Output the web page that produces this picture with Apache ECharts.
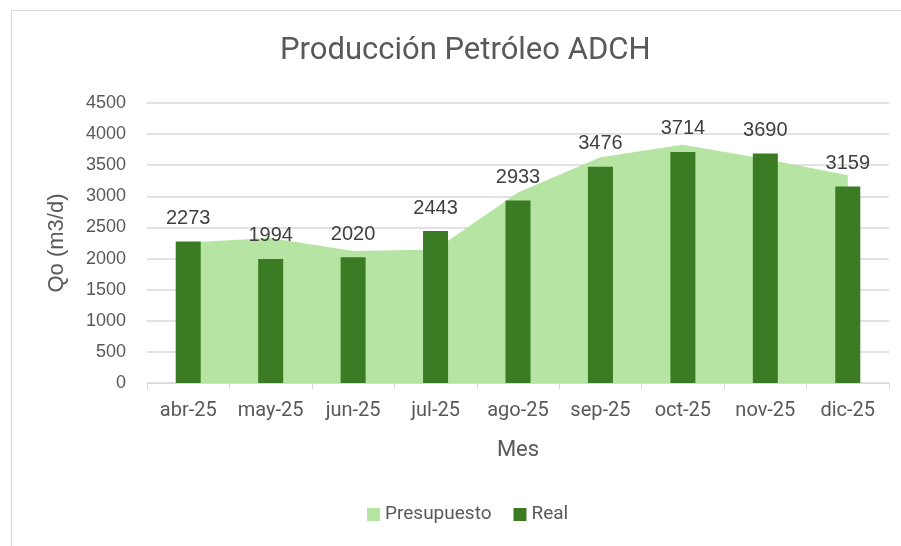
<!DOCTYPE html>
<html>
<head>
<meta charset="utf-8">
<script src="https://cdn.jsdelivr.net/npm/echarts@6/dist/echarts.min.js"></script>
<style>
  html, body { margin: 0; padding: 0; background: #fff; }
  #frame { position: absolute; left: 11px; top: 10px; width: 890px; height: 536px;
           border-left: 1px solid #d9d9d9; border-top: 1px solid #d9d9d9; }
  #chart-container { position: absolute; left: 0; top: 0; width: 901px; height: 546px; }
</style>
</head>
<body>
<div id="frame"></div>
<div id="chart-container"></div>
<script>
const months = ["abr-25", "may-25", "jun-25", "jul-25", "ago-25", "sep-25", "oct-25", "nov-25", "dic-25"];
const presupuesto = [2260, 2330, 2120, 2145, 3060, 3630, 3830, 3600, 3340];
const real = [2273, 1994, 2020, 2443, 2933, 3476, 3714, 3690, 3159];
const yTicks = { min: 0, max: 4500, interval: 500 };

const textColor = "#595959";
const dom = document.getElementById("chart-container");
const myChart = echarts.init(dom, null, { renderer: "canvas" });

const option = {
  animation: false,
  title: {
    text: "Producción Petróleo ADCH",
    left: 275,
    top: 31,
    textStyle: {
      fontFamily: "Roboto",
      fontSize: 31,
      fontWeight: "normal",
      color: textColor,
    },
  },
  legend: {
    bottom: 17,
    left: 362,
    itemWidth: 13,
    itemHeight: 13,
    itemGap: 22,
    icon: "rect",
    textStyle: { fontFamily: "Roboto", fontSize: 19, color: textColor },
    data: ["Presupuesto", "Real"],
  },
  grid: { left: 147, right: 12, top: 103, bottom: 163 },
  xAxis: {
    type: "category",
    data: months,
    name: "Mes",
    nameLocation: "middle",
    nameGap: 56,
    nameTextStyle: { fontFamily: "Roboto", fontSize: 22, color: textColor },
    axisLine: { lineStyle: { color: "#d9d9d9", width: 1 } },
    axisTick: { show: true, length: 6, lineStyle: { color: "#d9d9d9" } },
    axisLabel: {
      interval: 0,
      hideOverlap: false,
      fontFamily: "Roboto",
      fontSize: 20,
      color: textColor,
      margin: 18,
    },
  },
  yAxis: {
    type: "value",
    min: yTicks.min,
    max: yTicks.max,
    interval: yTicks.interval,
    name: "Qo (m3/d)",
    nameLocation: "middle",
    nameGap: 79,
    nameTextStyle: { fontFamily: "Liberation Sans", fontSize: 22, color: textColor },
    axisLine: { show: false },
    axisTick: { show: false },
    axisLabel: {
      fontFamily: "Liberation Sans",
      fontSize: 18,
      color: textColor,
      margin: 21,
      formatter: (v) => String(v),
    },
    splitLine: { lineStyle: { color: "#d9d9d9", width: 1.5 } },
  },
  series: [
    {
      name: "Presupuesto",
      type: "line",
      data: presupuesto,
      showSymbol: false,
      symbol: "none",
      lineStyle: { width: 0 },
      itemStyle: { color: "#b5e4a3" },
      areaStyle: { color: "#b5e4a3", opacity: 1 },
      z: 1,
    },
    {
      name: "Real",
      type: "bar",
      data: real,
      barWidth: 25,
      itemStyle: { color: "#3b7b23" },
      label: {
        show: true,
        position: "top",
        distance: 13,
        fontFamily: "Liberation Sans",
        fontSize: 20,
        color: "#404040",
      },
      z: 2,
    },
  ],
};

myChart.setOption(option);
window.addEventListener("resize", myChart.resize);
</script>
</body>
</html>
